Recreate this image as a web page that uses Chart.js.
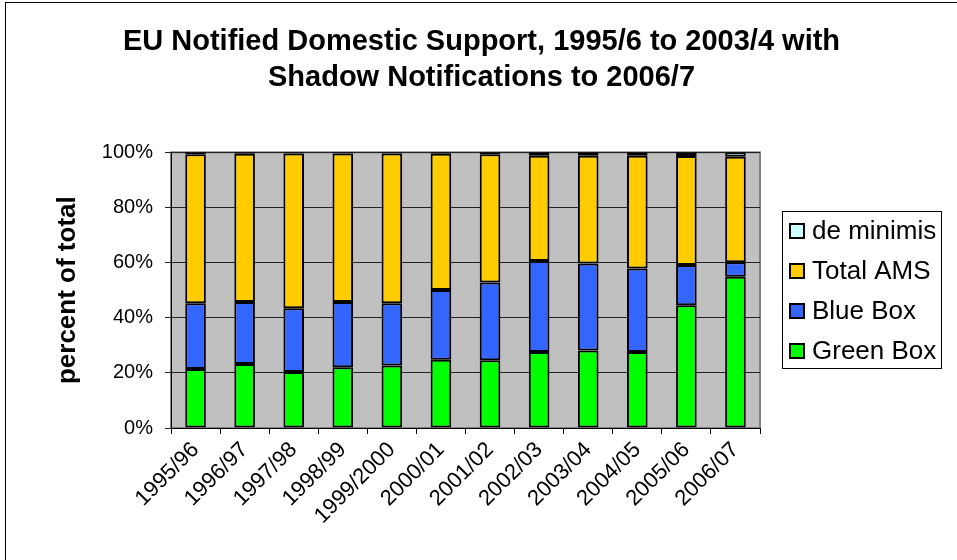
<!DOCTYPE html>
<html>
<head>
<meta charset="utf-8">
<script src="https://cdn.jsdelivr.net/npm/chart.js@4.4.1/dist/chart.umd.min.js"></script>
<style>
  html, body { margin: 0; padding: 0; background: #fff; }
  #wrap { width: 957px; height: 560px; }
</style>
</head>
<body>
<div id="wrap"><canvas id="chart" width="957" height="560"></canvas></div>
<script>
const years = ['1995/96', '1996/97', '1997/98', '1998/99', '1999/2000', '2000/01',
               '2001/02', '2002/03', '2003/04', '2004/05', '2005/06', '2006/07'];
const greenBox = [21.4, 23.2, 20.3, 22.0, 22.7, 24.8, 24.6, 27.6, 28.1, 27.6, 44.5, 54.9];
const blueBox = [23.9, 22.5, 23.1, 23.7, 22.6, 25.3, 28.2, 33.0, 31.6, 30.3, 14.6, 5.2];
const totalAms = [54.0, 53.8, 56.2, 53.9, 54.3, 49.4, 46.5, 38.2, 39.1, 40.9, 39.6, 38.3];
const deMinimis = [0.7, 0.5, 0.4, 0.4, 0.4, 0.5, 0.7, 1.2, 1.2, 1.2, 1.3, 1.6];
const yTicks = [0, 20, 40, 60, 80, 100];

const FONT = "'Liberation Sans', Arial, sans-serif";

// grey plot area, frame round the page, and the boxed legend on the right
const excelLook = {
    id: 'excelLook',
    beforeDraw(chart) {
        const { ctx, chartArea: a } = chart;
        ctx.save();
        ctx.fillStyle = '#fff';
        ctx.fillRect(0, 0, chart.width, chart.height);
        ctx.fillStyle = '#C0C0C0';
        ctx.fillRect(a.left, a.top, a.right - a.left, a.bottom - a.top);
        ctx.strokeStyle = '#808080';
        ctx.lineWidth = 2;
        ctx.strokeRect(a.left, a.top, a.right - a.left, a.bottom - a.top);
        ctx.strokeStyle = '#000';
        ctx.lineWidth = 1;
        ctx.strokeRect(5.5, 2.5, 1000, 700);
        ctx.restore();
    },
    afterDraw(chart) {
        const ctx = chart.ctx;
        ctx.save();
        ctx.strokeStyle = '#000';
        ctx.lineWidth = 1;
        ctx.strokeRect(782.5, 211.5, 159, 157);
        ctx.font = '26px ' + FONT;
        ctx.textBaseline = 'middle';
        const sets = [...chart.data.datasets].reverse();
        sets.forEach((ds, i) => {
            const y = 231 + i * 40;
            ctx.fillStyle = ds.backgroundColor;
            ctx.fillRect(790, y - 7, 14, 14);
            ctx.lineWidth = 2;
            ctx.strokeRect(790, y - 7, 14, 14);
            ctx.fillStyle = '#000';
            ctx.fillText(ds.label, 812, y + 1);
        });
        ctx.restore();
    }
};

const barStyle = { borderColor: '#000', borderWidth: 2, borderSkipped: false,
                   barPercentage: 0.42, categoryPercentage: 1 };

new Chart(document.getElementById('chart'), {
    type: 'bar',
    plugins: [excelLook],
    data: {
        labels: years,
        datasets: [
            { label: 'Green Box', data: greenBox, backgroundColor: '#00FF00', ...barStyle },
            { label: 'Blue Box', data: blueBox, backgroundColor: '#3366FF', ...barStyle },
            { label: 'Total AMS', data: totalAms, backgroundColor: '#FFCC00', ...barStyle },
            { label: 'de minimis', data: deMinimis, backgroundColor: '#CCFFFF', ...barStyle }
        ]
    },
    options: {
        responsive: false,
        animation: false,
        layout: { padding: { left: 6, right: 0, top: 0, bottom: 0 } },
        plugins: {
            legend: { display: false },
            tooltip: { enabled: false },
            title: {
                display: true,
                text: ['EU Notified Domestic Support, 1995/6 to 2003/4 with',
                       'Shadow Notifications to 2006/7'],
                color: '#000',
                font: { family: FONT, size: 29, weight: 'bold', lineHeight: 1.23 },
                padding: { top: 24, bottom: 57 }
            }
        },
        scales: {
            x: {
                stacked: true,
                grid: { drawOnChartArea: false, drawTicks: true, tickLength: 6, color: '#000', offset: true },
                border: { color: '#000', width: 1 },
                ticks: { color: '#000', font: { family: FONT, size: 22 },
                         maxRotation: 45, minRotation: 45, autoSkip: false, padding: 3 },
                afterFit(scale) { scale.height = 132; }
            },
            y: {
                stacked: true,
                min: 0,
                max: 100,
                afterBuildTicks(scale) { scale.ticks = yTicks.map(v => ({ value: v })); },
                grid: { color: '#222', lineWidth: 1, tickLength: 6 },
                border: { color: '#000', width: 1 },
                ticks: { color: '#000', font: { family: FONT, size: 20 }, padding: 12,
                         callback: v => v + '%' },
                title: { display: true, text: 'percent of total', color: '#000',
                         font: { family: FONT, size: 26, weight: 'bold' },
                         padding: { top: 46, bottom: 0 } },
                afterFit(scale) { scale.width = 165; }
            },
            spacer: {
                position: 'right',
                display: true,
                grid: { display: false },
                border: { display: false },
                ticks: { display: false },
                afterFit(scale) { scale.width = 197; }
            }
        }
    }
});
</script>
</body>
</html>
